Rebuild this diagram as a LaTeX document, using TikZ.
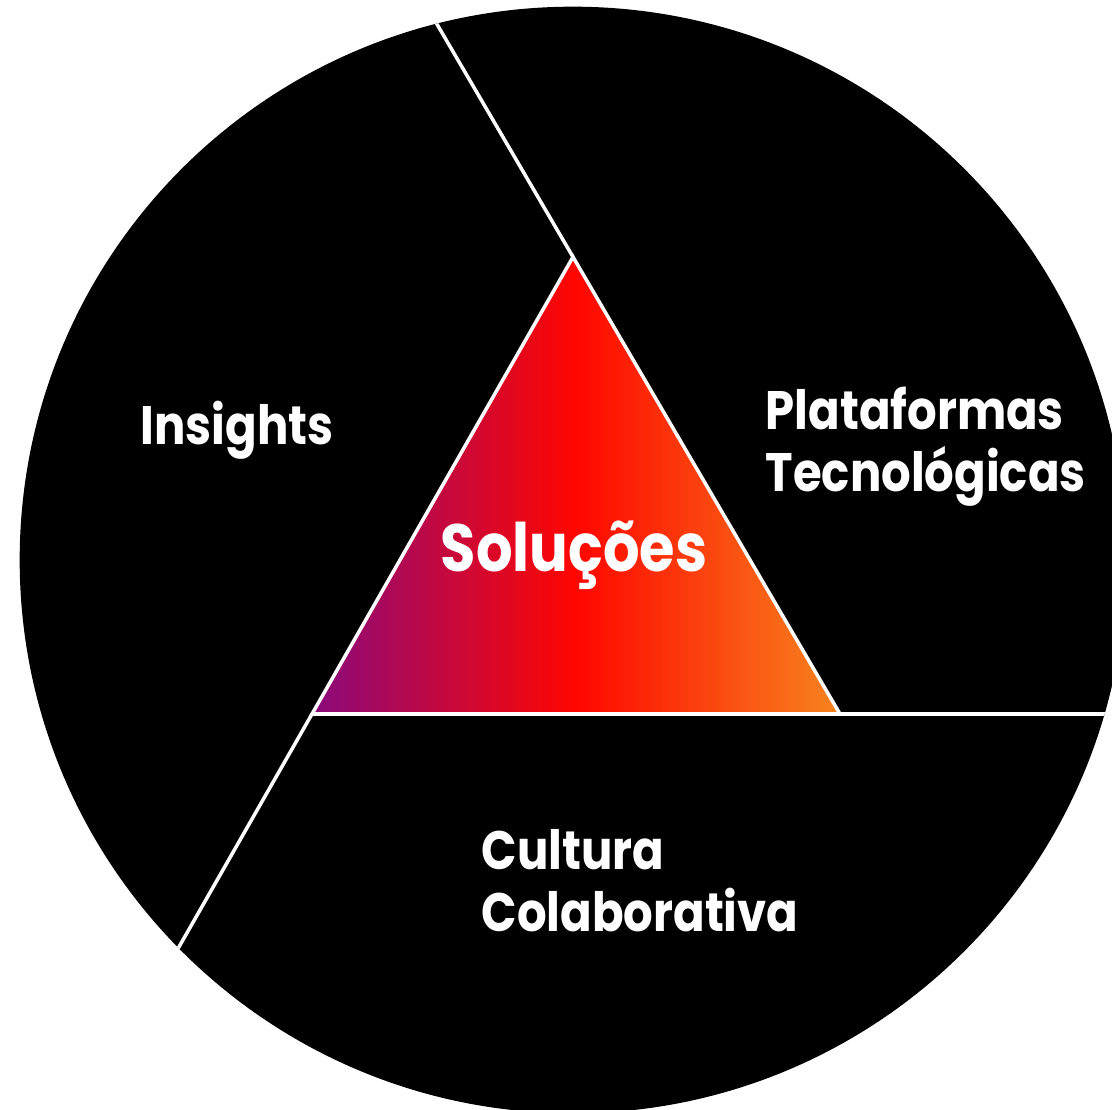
\documentclass[tikz,border=0pt]{standalone}
\usepackage{fontspec}
\setmainfont{Poppins}[BoldFeatures={FakeStretch=0.86}]
\usetikzlibrary{calc}

\definecolor{solpurple}{HTML}{8A0A7C}
\definecolor{solred}{HTML}{FF0600}
\definecolor{solorange}{HTML}{F7841E}
\pgfdeclarehorizontalshading{solgrad}{100bp}{color(0bp)=(solpurple); color(25bp)=(solpurple);
	color(50bp)=(solred); color(75bp)=(solorange); color(100bp)=(solorange)}

\tikzset{
	pillar/.style={text=white, font=\bfseries\fontsize{15.4}{17.6}\selectfont, align=left, inner sep=0pt},
	divider/.style={white, line width=1pt}
}

\begin{document}
\begin{tikzpicture}[x=0.01cm, y=-0.01cm]
		\useasboundingbox (0,0) rectangle (1112,1110);
		\clip (0,0) rectangle (1112,1110);
		%
		% big disc
		\coordinate (centre) at (573,560);
		\fill[black] (centre) circle [radius=5.53cm];
		%
		% triangle corners and the ends of the sides on the rim
		\coordinate (apex) at (573,257);
		\coordinate (left) at (312,714);
		\coordinate (right) at (840,714);
		\coordinate (rimtop) at ($(right)!1.52!(apex)$);
		\coordinate (rimleft) at ($(apex)!1.52!(left)$);
		\coordinate (rimright) at ($(left)!1.52!(right)$);
		%
		\begin{scope}
			\clip (centre) circle [radius=5.53cm];
			\draw[divider] (apex) -- (rimtop);
			\draw[divider] (left) -- (rimleft);
			\draw[divider] (right) -- (rimright);
		\end{scope}
		%
		\shade[shading=solgrad] (apex) -- (left) -- (right) -- cycle;
		\draw[divider, line join=miter] (apex) -- (left) -- (right) -- cycle;
		%
		% labels
		\node[pillar, anchor=base west] (insights) at (140,445) {Insights};
		\node[pillar, anchor=north west] (plataformas) at (765,386) {Plataformas\\Tecnológicas};
		\node[pillar, anchor=north west] (cultura) at (481,829) {Cultura\\Colaborativa};
		\node[pillar, anchor=base, font=\bfseries\fontsize{19}{20}\selectfont] (solucoes) at (574,572) {Soluções};
	\end{tikzpicture}
\end{document}
